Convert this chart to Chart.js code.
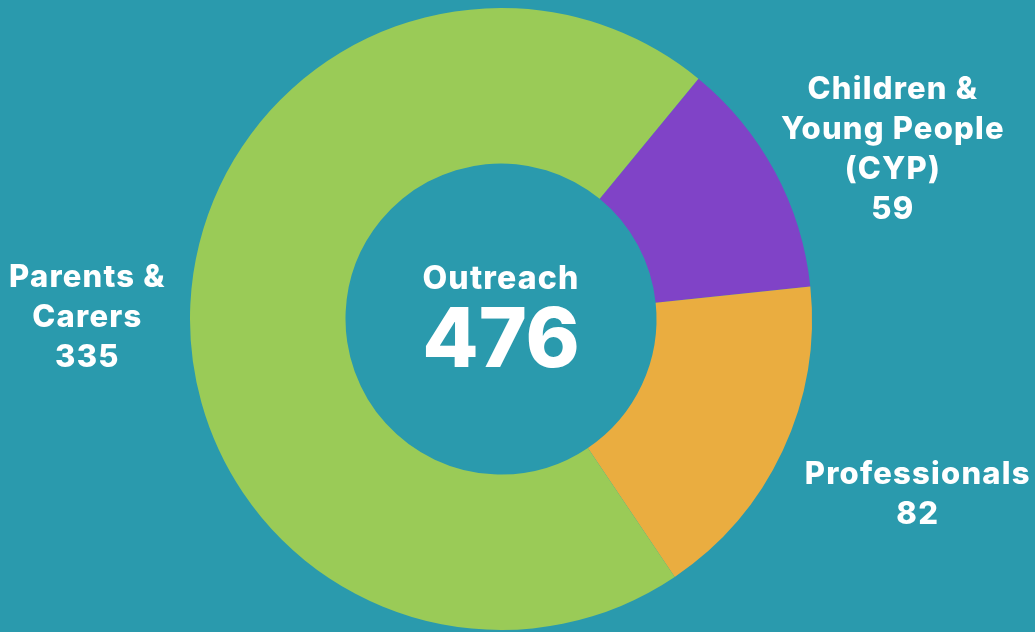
<!DOCTYPE html>
<html>
<head>
<meta charset="utf-8">
<script src="https://cdn.jsdelivr.net/npm/chart.js@4.4.0/dist/chart.umd.min.js"></script>
<style>
  html, body { margin: 0; padding: 0; background: #2A9AAD; }
  #wrap { width: 1035px; height: 632px; position: relative; }
</style>
</head>
<body>
<div id="wrap"><canvas id="myChart"></canvas></div>
<script>
// data
var labels = [["Children &", "Young People", "(CYP)"], ["Professionals"], ["Parents &", "Carers"]];
var values = [59, 82, 335];
var colors = ['#8043C7', '#EAAD40', '#9ACB57'];
var centerTitle = 'Outreach';

var FONT = 'Inter, "Open Sans", sans-serif';

// label anchors, in units of the outer radius from the doughnut centre
var labelPos = [[1.26, -0.55], [1.34, 0.56], [-1.33, -0.01]];

var textPlugin = {
    id: 'textPlugin',
    afterDraw: function (chart) {
        var ctx = chart.ctx;
        var arc = chart.getDatasetMeta(0).data[0];
        var cx = arc.x, cy = arc.y, r = arc.outerRadius;
        var total = values.reduce(function (a, b) { return a + b; }, 0);

        ctx.save();
        ctx.fillStyle = '#ffffff';
        ctx.textAlign = 'center';
        ctx.textBaseline = 'alphabetic';

        // centre text
        ctx.letterSpacing = '1.2px';
        ctx.font = '800 32px ' + FONT;
        ctx.fillText(centerTitle, cx, cy - 30);
        ctx.letterSpacing = '0px';
        ctx.font = '800 82px ' + FONT;
        ctx.fillText(String(total), cx, cy + 48);

        // outside labels
        ctx.letterSpacing = '1.2px';
        ctx.font = '800 31px ' + FONT;
        for (var i = 0; i < values.length; i++) {
            var lines = labels[i].concat([String(values[i])]);
            var x = cx + labelPos[i][0] * r;
            var y = cy + labelPos[i][1] * r;
            var lh = 40;
            var startY = y - (lines.length - 1) * lh / 2 + 11;
            for (var j = 0; j < lines.length; j++) {
                ctx.fillText(lines[j], x, startY + j * lh);
            }
        }
        ctx.restore();
    }
};

var ctx = document.getElementById('myChart');
var myChart = new Chart(ctx, {
    type: 'doughnut',
    data: {
        labels: labels.map(function (l) { return l.join(' '); }),
        datasets: [{
            data: values,
            backgroundColor: colors,
            borderWidth: 0
        }]
    },
    options: {
        responsive: true,
        maintainAspectRatio: false,
        animation: false,
        rotation: 39.4,
        cutout: '50%',
        layout: { padding: { left: 0, right: 33, top: 8, bottom: 2 } },
        plugins: {
            legend: { display: false },
            tooltip: { enabled: false }
        }
    },
    plugins: [textPlugin]
});
</script>
</body>
</html>
